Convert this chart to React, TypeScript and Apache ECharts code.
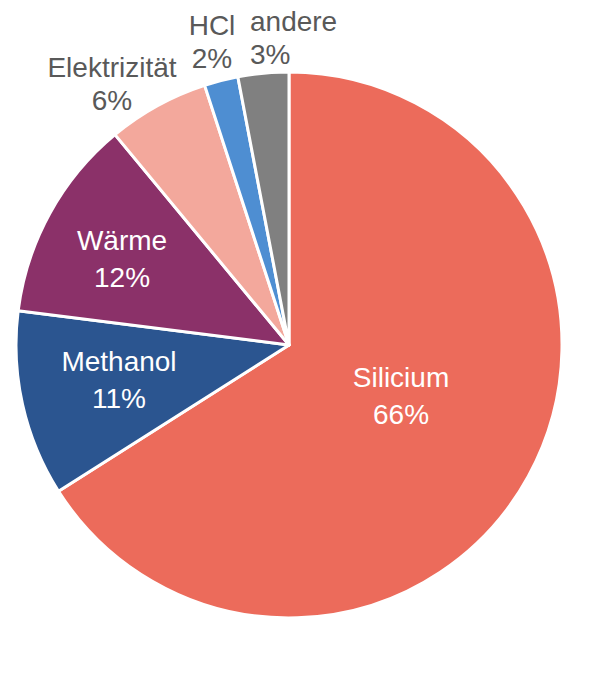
import React, { useEffect, useRef } from "react";
import * as echarts from "echarts";

const categories = ["Silicium", "Methanol", "Wärme", "Elektrizität", "HCl", "andere"];
const values = [66, 11, 12, 6, 2, 3];
const colors = ["#EC6B5B", "#2B5590", "#8B3169", "#F3A89C", "#4E8ED2", "#808080"];
const insideLabel = [true, true, true, false, false, false];
// label anchor points (layout only)
const labelAnchors: [number, number, string][] = [
  [401, 396, "center"],
  [119, 380, "center"],
  [122, 259, "center"],
  [112, 84, "center"],
  [212, 42, "center"],
  [250, 38, "left"],
];

export default function App() {
  const ref = useRef<HTMLDivElement>(null);
  useEffect(() => {
    if (!ref.current) return;
    const chart = echarts.init(ref.current, null, { renderer: "svg" });
    chart.setOption({
      animation: false,
      backgroundColor: "#ffffff",
      series: [
        {
          type: "pie",
          center: [289, 345],
          radius: 273,
          startAngle: 90,
          clockwise: true,
          avoidLabelOverlap: false,
          itemStyle: { borderColor: "#ffffff", borderWidth: 3 },
          labelLine: { show: false },
          label: {
            show: true,
            position: "inside",
            formatter: "{b}\n{c}%",
            fontFamily: "Liberation Sans, Arial, sans-serif",
            fontSize: 28,
            lineHeight: 34,
          },
          labelLayout: (params: any) => {
            const a = labelAnchors[params.dataIndex];
            return { x: a[0], y: a[1], align: a[2], verticalAlign: "middle" };
          },
          data: categories.map((name, i) => ({
            name,
            value: values[i],
            itemStyle: { color: colors[i] },
            label: {
              color: insideLabel[i] ? "#ffffff" : "#595959",
              align: labelAnchors[i][2],
              lineHeight: insideLabel[i] ? 37 : 33,
            },
          })),
        },
      ],
    });
    return () => chart.dispose();
  }, []);
  return (
    <div
      ref={ref}
      style={{ position: "fixed", left: 0, top: 0, width: 602, height: 684 }}
    />
  );
}
